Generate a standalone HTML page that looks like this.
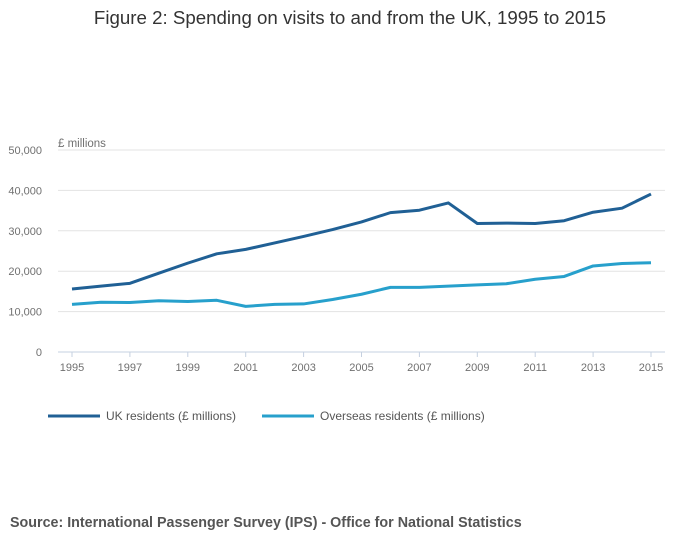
<!DOCTYPE html>
<html><head><meta charset="utf-8"><style>
body{margin:0;background:#fff;font-family:"Liberation Sans",sans-serif;}
</style></head><body>
<svg width="700" height="549" xmlns="http://www.w3.org/2000/svg">
<text x="350" y="24" text-anchor="middle" font-size="18.7" fill="#333">Figure 2: Spending on visits to and from the UK, 1995 to 2015</text>
<text x="58" y="147" font-size="11.5" fill="#707070">£ millions</text>
<g id="grid"></g><g id="lines"></g>
<g>
<line x1="48" y1="416" x2="100" y2="416" stroke="#206095" stroke-width="3"/>
<text x="106" y="420" font-size="12" fill="#555">UK residents (£ millions)</text>
<line x1="262" y1="416" x2="314" y2="416" stroke="#27a0cc" stroke-width="3"/>
<text x="320" y="420" font-size="12" fill="#555">Overseas residents (£ millions)</text>
</g>
<text x="10" y="527" font-size="14.3" font-weight="bold" fill="#555">Source: International Passenger Survey (IPS) - Office for National Statistics</text>
</svg>
<script>
const years=[1995,1996,1997,1998,1999,2000,2001,2002,2003,2004,2005,2006,2007,2008,2009,2010,2011,2012,2013,2014,2015];
const ukResidents=[15600,16300,17000,19500,22000,24300,25400,27000,28600,30300,32200,34500,35100,36900,31800,31900,31800,32500,34600,35600,39100];
const overseasResidents=[11800,12300,12250,12700,12500,12800,11300,11800,11900,13000,14300,16000,16000,16300,16600,16900,18000,18700,21300,21900,22100];
const yTicks=[0,10000,20000,30000,40000,50000];
const xTickYears=[1995,1997,1999,2001,2003,2005,2007,2009,2011,2013,2015];
const NS='http://www.w3.org/2000/svg';
const X=y=>72+(y-1995)*(651-72)/20;
const Y=v=>352-v*(352-150)/50000;
const grid=document.getElementById('grid'),lines=document.getElementById('lines');
function mk(t,a,p){const e=document.createElementNS(NS,t);for(const k in a)e.setAttribute(k,a[k]);p.appendChild(e);return e;}
yTicks.forEach(v=>{
 const l=mk('line',{x1:58,x2:665,y1:Y(v),y2:Y(v),stroke:v?'#e3e3e3':'#c5d0e0','stroke-width':1},grid);
 
 
 const t=mk('text',{x:42,y:Y(v)+4,'text-anchor':'end','font-size':11,fill:'#707070'},grid);
 t.textContent=v.toLocaleString('en-GB');
 
 
});
xTickYears.forEach(yr=>{
 const l=mk('line',{x1:X(yr),x2:X(yr),y1:352,y2:357,stroke:'#c5d0e0'},grid);
 
 
 const t=mk('text',{x:X(yr),y:371,'text-anchor':'middle','font-size':11,fill:'#707070'},grid);
 t.textContent=yr;
 
 
});
function series(vals,color,name){
 const p=mk('polyline',{points:vals.map((v,i)=>X(years[i])+','+Y(v)).join(' '),fill:'none',stroke:color,'stroke-width':3,'stroke-linejoin':'round'},lines);
 
 
}
series(overseasResidents,'#27a0cc','overseas-residents-line');
series(ukResidents,'#206095','uk-residents-line');
</script>
</body></html>
